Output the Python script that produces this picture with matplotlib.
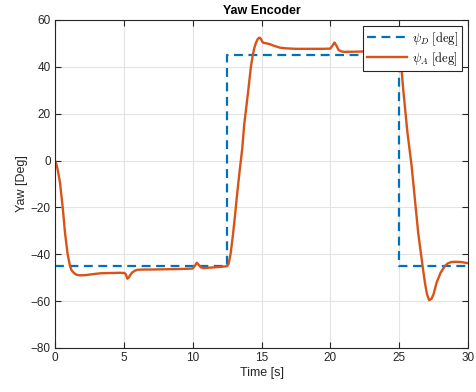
import numpy as np
import matplotlib
matplotlib.use("Agg")
import matplotlib.pyplot as plt

# Desired yaw (step reference)
t_des = [0, 12.5, 12.5, 25, 25, 30]
psi_des = [-45, -45, 45, 45, -45, -45]

t_act = [0, 0.1, 0.2, 0.36, 0.56, 0.73, 0.92, 1.09, 1.2, 1.38, 1.55, 1.82, 2.2, 2.6, 3.3, 4.0, 4.7, 5.05,
         5.15, 5.25, 5.35, 5.45, 5.6, 5.8, 6.0, 6.5, 7.0, 8.0, 9.0, 10.0, 10.15, 10.3, 10.45, 10.6, 10.8, 11.0,
         11.5, 12.0, 12.5, 12.6, 12.75, 12.9, 13.05, 13.2, 13.4, 13.6, 13.75, 13.9, 14.04, 14.23, 14.35, 14.47,
         14.6, 14.72, 14.82, 14.89, 14.97, 15.05, 15.13, 15.3, 15.6, 15.9, 16.34, 16.8, 17.5, 18.5, 19.5,
         20.0, 20.15, 20.3, 20.45, 20.6, 20.8, 21.0, 22.0, 23.0, 24.0, 24.9, 25.0, 25.1, 25.3, 25.6, 25.9,
         26.14, 26.38, 26.7, 26.87, 27.02, 27.18, 27.35, 27.5, 27.72, 28.0, 28.32, 28.55, 28.8, 29.1, 29.5,
         30.0]
psi_act = [0, -1.5, -4, -9.3, -20, -31, -40, -45, -46.8, -48, -48.7, -49, -48.9, -48.6, -48.1, -48, -47.9,
           -48, -48.6, -50.4, -50, -49, -47.8, -47, -46.6, -46.5, -46.5, -46.4, -46.3, -46.1, -45, -43.6,
           -44.6, -45.6, -45.9, -45.8, -45.6, -45.4, -45.1, -44.3, -40, -33, -25, -16, -5, 5, 15.7, 23,
           30, 40, 44.5, 47.9, 50.3, 51.8, 52.4, 52.4, 51.8, 50.8, 50.3, 50.1, 49.7, 49, 48.2, 47.9,
           47.7, 47.7, 47.7, 47.8, 49, 50.4, 49, 47.2, 46.6, 46.4, 46.5, 46.7, 46.9, 47.1, 46.5, 44, 30,
           12, -2, -16.4, -30.7, -45, -52.1, -57, -59.6, -59, -57, -52.1, -48, -45, -43.8, -43.3, -43.2,
           -43.3, -43.8]

plt.rcParams['font.family'] = ['Liberation Sans', 'DejaVu Sans']
plt.rcParams['mathtext.fontset'] = 'cm'

fig = plt.figure(figsize=(4.76, 3.92), dpi=100)
ax = fig.add_axes([55/476, 1-348/392, (468-55)/476, (348-20)/392])

ax.plot(t_des, psi_des, color='#0072BD', lw=1.6, ls=(0, (4, 2.5)), label=r'$\psi_D\ \mathrm{[deg]}$')
ax.plot(t_act, psi_act, color='#D95319', lw=1.7, solid_joinstyle='round', label=r'$\psi_A\ \mathrm{[deg]}$')

ax.set_xlim(0, 30)
ax.set_ylim(-80, 60)
ax.set_xticks(np.arange(0, 31, 5))
ax.set_yticks(np.arange(-80, 61, 20))
ax.grid(True, color='#e3e3e3', lw=0.8)
ax.set_axisbelow(True)
for s in ax.spines.values():
    s.set_color('#262626')
    s.set_linewidth(0.8)
ax.tick_params(direction='in', top=True, right=True, length=4, width=0.8,
               colors='#262626', labelsize=8.5, pad=3)
ax.set_xlabel('Time [s]', fontsize=9, color='#262626', labelpad=2)
ax.set_ylabel('Yaw [Deg]', fontsize=9, color='#262626', labelpad=2)
ax.set_title('Yaw Encoder', fontsize=9, fontweight='bold', color='black', pad=4)

leg = ax.legend(loc='upper right', fontsize=9, fancybox=False, framealpha=1,
                edgecolor='#262626', borderpad=0.3, handlelength=3.2, handletextpad=0.4,
                labelspacing=0.2, borderaxespad=0.5)
leg.get_frame().set_linewidth(0.8)

fig.savefig('out.png', dpi=100)
